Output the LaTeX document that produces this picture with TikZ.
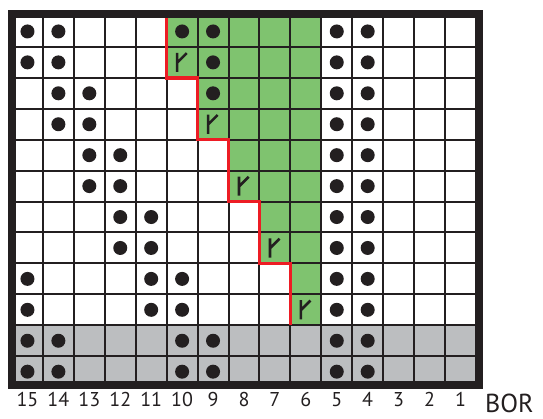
\documentclass[tikz,border=0pt]{standalone}
\usepackage{fontspec}
\setmainfont{PT Sans}
\usetikzlibrary{positioning}
\definecolor{chartblack}{HTML}{231F20}
\definecolor{chartgreen}{HTML}{7FC36F}
\definecolor{chartgrey}{HTML}{BCBEC0}
\definecolor{chartred}{HTML}{ED1C24}

\begin{document}
\begin{tikzpicture}[
  x=30.93pt, y=-30.93pt,
  gridline/.style = {draw=chartblack, line width=2pt},
  frame/.style    = {draw=chartblack, line width=8pt},
  purl/.style     = {fill=chartblack},
  incr/.style     = {draw=chartblack, line width=2.6pt},
  redline/.style  = {draw=chartred, line width=3.5pt, line join=miter},
  colnum/.style   = {anchor=base, inner sep=0pt, text=chartblack,
                     font=\fontsize{20}{20}\selectfont},
]
\useasboundingbox (-0.388,-0.517) rectangle (17.168,13.03);

%--- background fills ---
  \fill[white] (0,0) rectangle (15,12);
  \fill[chartgrey] (0,10) rectangle (15,12);
  \fill[chartgreen] (5,0) -- (10,0) -- (10,10) -- (9,10) -- (9,8) -- (8,8)
    -- (8,6) -- (7,6) -- (7,4) -- (6,4) -- (6,2) -- (5,2) -- cycle;

%--- grid ---
  \foreach \i in {1,...,14} \draw[gridline] (\i,0) -- (\i,12);
  \foreach \j in {1,...,11} \draw[gridline] (0,\j) -- (15,\j);

  % staircase edge of the green area
  \draw[redline] (5,0) |- (6,2) |- (7,4) |- (8,6) |- (9,8) -- (9,10);

%--- stitches (row/columns from top left) ---
  \foreach \r/\cols in {1/{1,2,6,7,11,12}, 2/{1,2,7,11,12}, 3/{2,3,7,11,12},
                        4/{2,3,11,12}, 5/{3,4,11,12}, 6/{3,4,11,12},
                        7/{4,5,11,12}, 8/{4,5,11,12}, 9/{1,5,6,11,12},
                        10/{1,5,6,11,12}, 11/{1,2,6,7,11,12}, 12/{1,2,6,7,11,12}}
    \foreach \c in \cols
      \fill[purl] (\c-0.5,\r-0.5) circle (7pt);

  \foreach \c/\r in {6/2, 7/4, 8/6, 9/8, 10/10}
    \draw[incr] (\c-0.66,\r-0.81) -- (\c-0.66,\r-0.19)
                (\c-0.66,\r-0.49) -- (\c-0.35,\r-0.8);

  \draw[frame] ([yshift=2pt]0,0) rectangle ([shift={(3.5pt,2pt)}]15,12);

%--- column numbers ---
  \foreach \c in {1,...,15} {
    \pgfmathtruncatemacro\lab{16-\c}
    \node[colnum] (n\lab) at (\c-0.5,12.62) {\lab};
  }
  \node[anchor=base west, inner sep=0pt, text=chartblack,
        font=\fontsize{26}{26}\selectfont] (bor) at (15.29,12.83) {BOR};
\end{tikzpicture}
\end{document}
